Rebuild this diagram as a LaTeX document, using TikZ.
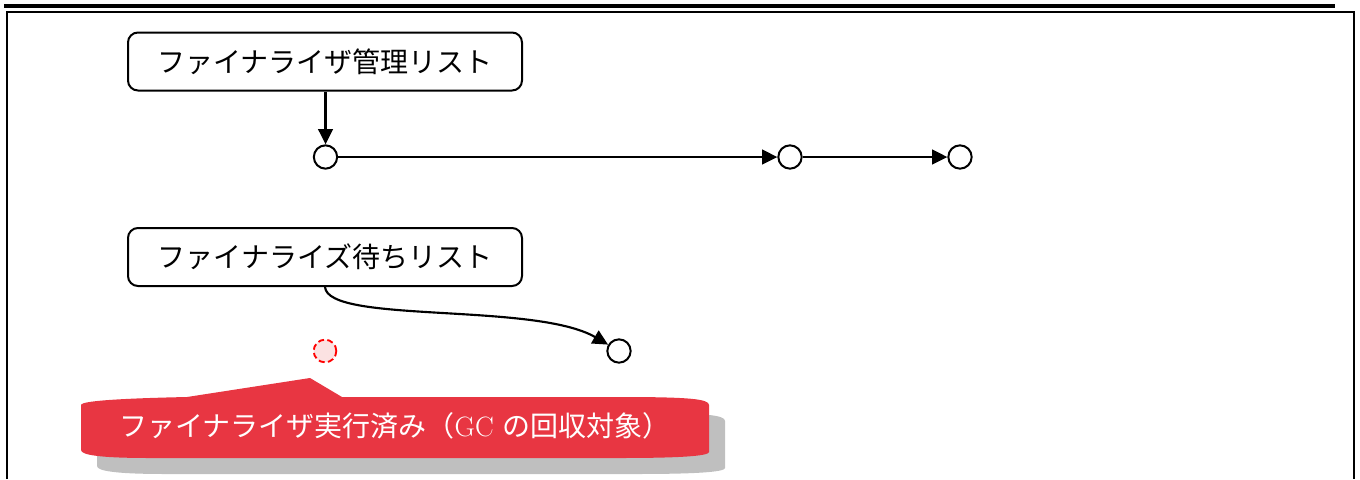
\documentclass[tikz,border=0pt]{standalone}
\usepackage{fontspec}
\newfontfamily\jp{Noto Sans CJK JP}
\usetikzlibrary{arrows.meta}
\definecolor{calloutred}{RGB}{232,54,66}
\definecolor{shadowgray}{RGB}{191,191,191}
\definecolor{pinkfill}{RGB}{251,226,226}
\begin{document}
\begin{tikzpicture}[x=0.75pt,y=-0.75pt,
  listbox/.style={draw, line width=1.5pt, rounded corners=7.5pt, minimum width=295.5pt, minimum height=43.5pt, inner sep=0pt, font=\jp\fontsize{21}{24}\selectfont},
  obj/.style={circle, draw, line width=1.5pt, minimum size=17.5pt, inner sep=0pt, fill=white},
  gone/.style={circle, draw=red, dash pattern=on 4.5pt off 2.5pt, line width=1.4pt, fill=pinkfill, minimum size=17pt, inner sep=0pt},
  ptr/.style={line width=1.6pt, -{Triangle[length=11.5pt,width=11pt]}},
  frameline/.style={line width=1.5pt},
  calloutlabel/.style={text=white, inner sep=0pt, anchor=west, font=\fontsize{21}{24}\selectfont},
]
\useasboundingbox (0,0) rectangle (1360,479);
% page frame
\draw[line width=2.6pt] (4,5.8) -- (1335,5.8);
\draw[frameline] (7.3,479) -- (7.3,11.7) -- (1353.5,11.7) -- (1353.5,479);

% nodes
\node[listbox] (mgr) at (325,61.5) {ファイナライザ管理リスト};
\node[listbox] (wait) at (325,257) {ファイナライズ待ちリスト};
\node[obj] (c1) at (325.5,157) {};
\node[obj] (c2) at (790,157) {};
\node[obj] (c3) at (960,157) {};
\node[obj] (c4) at (619,351) {};
\node[gone] (dead) at (325,351) {};

% connectors
\draw[ptr] (mgr.south -| c1) -- (c1.north);
\draw[ptr] (c1) -- (c2);
\draw[ptr] (c2) -- (c3);
\draw[ptr] (wait.south) .. controls (328,324) and (535,302) .. (c4);

% callout shadow
\fill[shadowgray, shift={(16,16)}]
  (81,405) .. controls (81,399) and (150,397) .. (200,397) -- (620,397)
  .. controls (690,397) and (709,399) .. (709,405) -- (709,452)
  .. controls (709,456) and (680,458) .. (620,458) -- (150,458)
  .. controls (100,458) and (81,455) .. (81,450) -- cycle;
% callout body
\fill[calloutred]
  (81,405) .. controls (81,400) and (140,398) .. (187,397) -- (310,378) -- (342,397) -- (620,397)
  .. controls (690,397) and (709,399) .. (709,405) -- (709,452)
  .. controls (709,456) and (680,458) .. (620,458) -- (150,458)
  .. controls (100,458) and (81,455) .. (81,450) -- cycle;
\node[calloutlabel] (lbl) at (119,426) {{\jp ファイナライザ実行済み（}GC {\jp の回収対象）}};
\end{tikzpicture}
\end{document}
